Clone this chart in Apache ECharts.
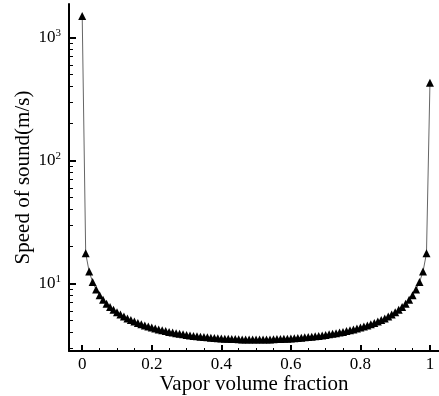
<!DOCTYPE html>
<html>
<head>
<meta charset="utf-8">
<script src="https://cdn.jsdelivr.net/npm/echarts@6/dist/echarts.min.js"></script>
<style>html,body{margin:0;padding:0;background:#fff;}#c{width:439px;height:396px;}</style>
</head>
<body>
<div id="c"></div>
<script>
// Vapor volume fraction (x)
var vaporFraction = [0,0.01,0.02,0.03,0.04,0.05,0.06,0.07,0.08,0.09,0.10,0.11,0.12,0.13,0.14,0.15,0.16,0.17,0.18,0.19,0.20,0.21,0.22,0.23,0.24,0.25,0.26,0.27,0.28,0.29,0.30,0.31,0.32,0.33,0.34,0.35,0.36,0.37,0.38,0.39,0.40,0.41,0.42,0.43,0.44,0.45,0.46,0.47,0.48,0.49,0.50,0.51,0.52,0.53,0.54,0.55,0.56,0.57,0.58,0.59,0.60,0.61,0.62,0.63,0.64,0.65,0.66,0.67,0.68,0.69,0.70,0.71,0.72,0.73,0.74,0.75,0.76,0.77,0.78,0.79,0.80,0.81,0.82,0.83,0.84,0.85,0.86,0.87,0.88,0.89,0.90,0.91,0.92,0.93,0.94,0.95,0.96,0.97,0.98,0.99,1.00];
// Speed of sound (m/s)
var speedOfSound = [1500,17.6,12.5,10.3,8.93,8.03,7.37,6.86,6.45,6.11,5.83,5.59,5.39,5.20,5.04,4.90,4.77,4.66,4.56,4.46,4.38,4.30,4.22,4.16,4.10,4.04,3.99,3.94,3.90,3.86,3.82,3.78,3.75,3.72,3.69,3.67,3.65,3.62,3.61,3.59,3.57,3.56,3.55,3.53,3.53,3.52,3.51,3.51,3.50,3.50,3.50,
  3.50,3.50,3.51,3.51,3.52,3.53,3.53,3.55,3.56,3.57,3.59,3.61,3.62,3.65,3.67,3.69,3.72,3.75,3.78,3.82,3.86,3.90,3.94,3.99,4.04,4.10,4.16,4.22,4.30,4.38,4.46,4.56,4.66,4.77,4.90,5.04,5.20,5.39,5.59,5.83,6.11,6.45,6.86,7.37,8.03,8.93,10.3,12.5,17.6,430];
// Tick values
var xMajorTicks = [0,0.2,0.4,0.6,0.8,1];
var xMinorTicks = [0.05,0.1,0.15,0.25,0.3,0.35,0.45,0.5,0.55,0.65,0.7,0.75,0.85,0.9,0.95];
var yMajorTicks = [10,100,1000];
var yMinorTicks = [3,4,5,6,7,8,9,20,30,40,50,60,70,80,90,200,300,400,500,600,700,800,900];

var data = vaporFraction.map(function(x,i){return [x, speedOfSound[i]];});
var FONT = 'Liberation Serif';
var xMin = -0.038, xMax = 1.026, yMin = 2.825, yMax = 1880;

var chart = echarts.init(document.getElementById('c'), null, {renderer:'canvas'});
chart.setOption({
  animation:false,
  backgroundColor:'#fff',
  grid:{left:69, right:0, top:4, bottom:45, containLabel:false, outerBoundsMode:'none'},
  xAxis:[{
    type:'value', min:xMin, max:xMax, position:'bottom',
    name:'Vapor volume fraction', nameLocation:'middle', nameGap:23, nameMoveOverlap:false,
    nameTextStyle:{fontFamily:FONT, fontSize:21, color:'#000'},
    axisLine:{show:true, onZero:false, lineStyle:{color:'#000', width:2}},
    axisTick:{show:true, inside:true, length:6, lineStyle:{color:'#000', width:2}, customValues:xMajorTicks},
    axisLabel:{show:true, customValues:xMajorTicks, margin:5, fontFamily:FONT, fontSize:17, color:'#000',
      formatter:function(v){return String(Math.round(v*10)/10);}},
    splitLine:{show:false}
  },{
    type:'value', min:xMin, max:xMax, position:'bottom',
    axisLine:{show:false, onZero:false},
    axisTick:{show:true, inside:true, length:3, lineStyle:{color:'#000', width:1}, customValues:xMinorTicks},
    axisLabel:{show:false},
    splitLine:{show:false}
  }],
  yAxis:[{
    type:'log', logBase:10, min:yMin, max:yMax, position:'left',
    name:'Speed of sound(m/s)', nameLocation:'middle', nameGap:35, nameRotate:90, nameMoveOverlap:false,
    nameTextStyle:{fontFamily:FONT, fontSize:21, color:'#000'},
    axisLine:{show:true, onZero:false, lineStyle:{color:'#000', width:2}},
    axisTick:{show:true, inside:true, length:7, lineStyle:{color:'#000', width:2}, customValues:yMajorTicks},
    axisLabel:{show:true, customValues:yMajorTicks, margin:8,
      formatter:function(v){return '{b|10}{s|' + Math.round(Math.log10(v)) + '}';},
      rich:{
        b:{fontFamily:FONT, fontSize:17, color:'#000'},
        s:{fontFamily:FONT, fontSize:11, color:'#000', padding:[0,0,9,0]}
      }},
    splitLine:{show:false}
  },{
    type:'log', logBase:10, min:yMin, max:yMax, position:'left',
    axisLine:{show:false, onZero:false},
    axisTick:{show:true, inside:true, length:4, lineStyle:{color:'#000', width:1}, customValues:yMinorTicks},
    axisLabel:{show:false},
    splitLine:{show:false}
  }],
  series:[{
    type:'line', xAxisIndex:0, yAxisIndex:0,
    data:data,
    symbol:'triangle', symbolSize:8,
    itemStyle:{color:'#000'},
    lineStyle:{color:'#666', width:1}
  }]
});
</script>
</body>
</html>
